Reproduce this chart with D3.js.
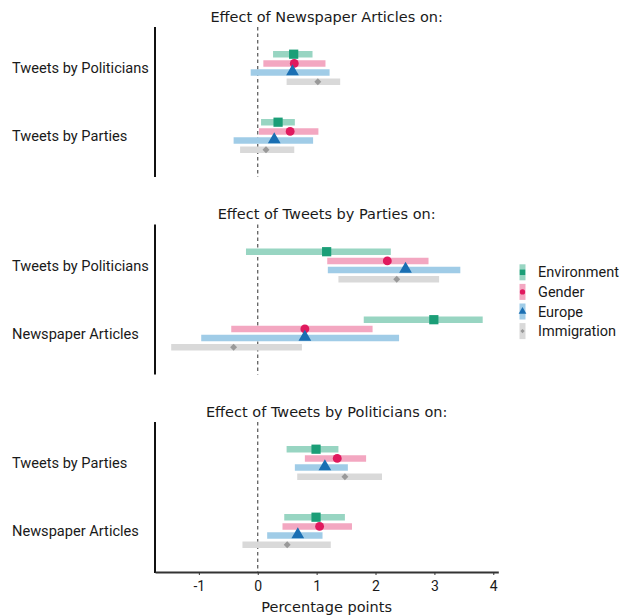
<!DOCTYPE html>
<html><head><meta charset="utf-8">
<script src="https://cdn.jsdelivr.net/npm/d3@7"></script>
<style>body{margin:0;background:#fff}</style>
</head><body>
<script>
const series = ["Environment","Gender","Europe","Immigration"];
const panelTitles = ["Effect of Newspaper Articles on:","Effect of Tweets by Parties on:","Effect of Tweets by Politicians on:"];
const targets = [
  ["Tweets by Politicians","Tweets by Parties"],
  ["Tweets by Politicians","Newspaper Articles"],
  ["Tweets by Parties","Newspaper Articles"]
];
// [panel][target][series]
const estimates = [
  [[0.61,0.62,0.59,1.02],[0.345,0.55,0.28,0.14]],
  [[1.17,2.20,2.51,2.36],[2.99,0.80,0.80,-0.41]],
  [[0.99,1.35,1.14,1.48],[0.99,1.05,0.68,0.50]]
];
const lower = [
  [[0.26,0.095,-0.12,0.49],[0.056,0.02,-0.41,-0.30]],
  [[-0.20,1.18,1.19,1.37],[1.80,-0.45,-0.96,-1.47]],
  [[0.49,0.80,0.63,0.67],[0.45,0.42,0.16,-0.26]]
];
const upper = [
  [[0.93,1.15,1.22,1.40],[0.63,1.03,0.94,0.62]],
  [[2.26,2.90,3.44,3.08],[3.82,1.95,2.40,0.75]],
  [[1.37,1.84,1.53,2.11],[1.48,1.60,1.10,1.24]]
];
const xTicks = [-1,0,1,2,3,4];
const xLabel = "Percentage points";

const markerColors = ["#1b9e77","#e0195e","#1a6fb3","#999999"];
const barColors = ["#98d5c2","#f3a7c1","#a0cce7","#d9d9d9"];
const symbols = [d3.symbolSquare, d3.symbolCircle, d3.symbolTriangle, d3.symbolSquare];
const symRot = [0, 0, 0, 45];
const symSizes = [85, 62, 70, 24];
const legSizes = [30, 22, 26, 9];

const W = 622, H = 616;
const svg = d3.select("body").append("svg").attr("width",W).attr("height",H);

const x = d3.scaleLinear().domain([-1.745, 4.085]).range([155, 498.3]);
const panelTops = [27, 224.5, 422];
const panelH = 150;
const off = d3.scalePoint().domain(series).range([-13.8, 13.8]);

panelTitles.forEach((title, p) => {
  const top = panelTops[p];
  const g = svg.append("g").attr("transform", `translate(0,${top})`);
  const y = d3.scalePoint().domain(targets[p]).range([0, panelH]).padding(0.603);

  g.append("text").attr("x", (x.range()[0]+x.range()[1])/2).attr("y", -5.5)
    .attr("text-anchor","middle").attr("font-family","DejaVu Sans").attr("font-size",14.5)
    .attr("fill","#1a1a1a").text(title);

  // zero line
  g.append("line").attr("x1", x(0)).attr("x2", x(0)).attr("y1", 0).attr("y2", panelH)
    .attr("stroke","#444").attr("stroke-width",1.1).attr("stroke-dasharray","3.5,3");

  targets[p].forEach((t, ti) => {
    g.append("text").attr("x", 12).attr("y", y(t)).attr("dy","0.35em")
      .attr("font-family","Roboto").attr("font-size",14.6).attr("fill","#1a1a1a").text(t);
    series.forEach((s, si) => {
      const yy = y(t) + off(s);
      g.append("line").attr("x1", x(lower[p][ti][si])).attr("x2", x(upper[p][ti][si]))
        .attr("y1", yy).attr("y2", yy).attr("stroke", barColors[si]).attr("stroke-width", 6.5);
      g.append("path").attr("d", d3.symbol().type(symbols[si]).size(symSizes[si])())
        .attr("transform", `translate(${x(estimates[p][ti][si])},${yy + (si===2?-1:0)}) rotate(${symRot[si]})`)
        .attr("fill", markerColors[si]);
    });
  });

  // left spine
  g.append("line").attr("x1", 155).attr("x2", 155).attr("y1", 0).attr("y2", panelH + (p===2?1:0))
    .attr("stroke","#111").attr("stroke-width",2);

  if (p === 2) {
    const ax = g.append("g").attr("transform", `translate(0,${panelH})`)
      .call(d3.axisBottom(x).tickValues(xTicks).tickSize(3).tickSizeOuter(0).tickFormat(d => String(d)));
    ax.select(".domain").attr("stroke","#333").attr("stroke-width",2);
    ax.selectAll(".tick line").attr("stroke","#333");
    ax.selectAll(".tick text").attr("font-family","Roboto").attr("font-size",14).attr("fill","#1a1a1a")
      .attr("dy","0.75em").attr("y",8);
    g.append("text").attr("x",(x.range()[0]+x.range()[1])/2).attr("y", panelH + 40)
      .attr("text-anchor","middle").attr("font-family","DejaVu Sans").attr("font-size",14.5)
      .attr("fill","#1a1a1a").text(xLabel);
  }
});

// legend
const leg = svg.append("g").attr("transform","translate(522.5,272.3)");
series.forEach((s, si) => {
  const gy = si * 19.6;
  leg.append("rect").attr("x",-3).attr("y",gy-8).attr("width",6).attr("height",16).attr("fill",barColors[si]);
  leg.append("path").attr("d", d3.symbol().type(symbols[si]).size(legSizes[si])())
    .attr("transform",`translate(0,${gy}) rotate(${symRot[si]})`).attr("fill",markerColors[si]);
  leg.append("text").attr("x",15.5).attr("y",gy).attr("dy","0.35em")
    .attr("font-family","Roboto").attr("font-size",14.5).attr("fill","#1a1a1a").text(s);
});
</script>
</body></html>
